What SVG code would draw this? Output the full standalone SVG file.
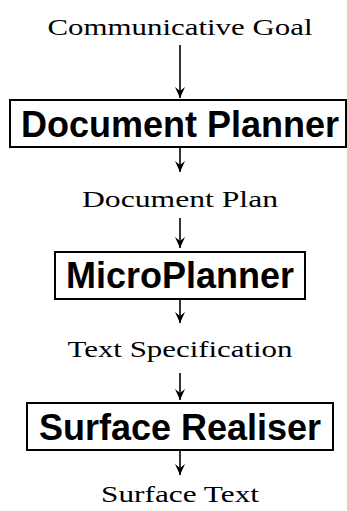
<svg xmlns="http://www.w3.org/2000/svg" width="347" height="511" viewBox="0 0 347 511">
<style>
.lbl{font-family:"Liberation Serif","Times New Roman",serif;font-size:24px;fill:#000}
.box{fill:#fff;stroke:#000;stroke-width:2}
.ttl{font-family:"Liberation Sans",Arial,sans-serif;font-weight:bold;font-size:36px;fill:#000}
.con{stroke:#000;stroke-width:1.6;fill:none}
</style>
<defs>
<marker id="ah" viewBox="-12 -6 13 12" refX="0" refY="0" markerWidth="13" markerHeight="12" markerUnits="userSpaceOnUse" orient="auto">
<path d="M0,0 L-11,-5 L-7,0 L-11,5 Z" fill="#000"/>
</marker>
</defs>
<rect width="347" height="511" fill="#fff"/>
<g id="connectors">
<line class="con" x1="180" y1="45" x2="180" y2="98" marker-end="url(#ah)"/>
<line class="con" x1="180" y1="147" x2="180" y2="172" marker-end="url(#ah)"/>
<line class="con" x1="180" y1="218" x2="180" y2="248" marker-end="url(#ah)"/>
<line class="con" x1="180" y1="299" x2="180" y2="323" marker-end="url(#ah)"/>
<line class="con" x1="180" y1="373" x2="180" y2="400" marker-end="url(#ah)"/>
<line class="con" x1="180" y1="450" x2="180" y2="475" marker-end="url(#ah)"/>
</g>
<g id="goal"><text class="lbl" x="180" y="35" text-anchor="middle" textLength="265" lengthAdjust="spacingAndGlyphs">Communicative Goal</text></g>
<g id="docplanner"><rect class="box" x="10" y="100" width="336" height="47"/><text class="ttl" x="180" y="137" text-anchor="middle">Document Planner</text></g>
<g id="docplan"><text class="lbl" x="180" y="207" text-anchor="middle" textLength="196" lengthAdjust="spacingAndGlyphs">Document Plan</text></g>
<g id="microplanner"><rect class="box" x="55" y="252" width="250" height="47"/><text class="ttl" x="180" y="288" text-anchor="middle">MicroPlanner</text></g>
<g id="textspec"><text class="lbl" x="180" y="357" text-anchor="middle" textLength="225" lengthAdjust="spacingAndGlyphs">Text Specification</text></g>
<g id="realiser"><rect class="box" x="27" y="403" width="306" height="47"/><text class="ttl" x="180" y="440" text-anchor="middle">Surface Realiser</text></g>
<g id="surfacetext"><text class="lbl" x="180" y="502" text-anchor="middle" textLength="158" lengthAdjust="spacingAndGlyphs">Surface Text</text></g>
</svg>
